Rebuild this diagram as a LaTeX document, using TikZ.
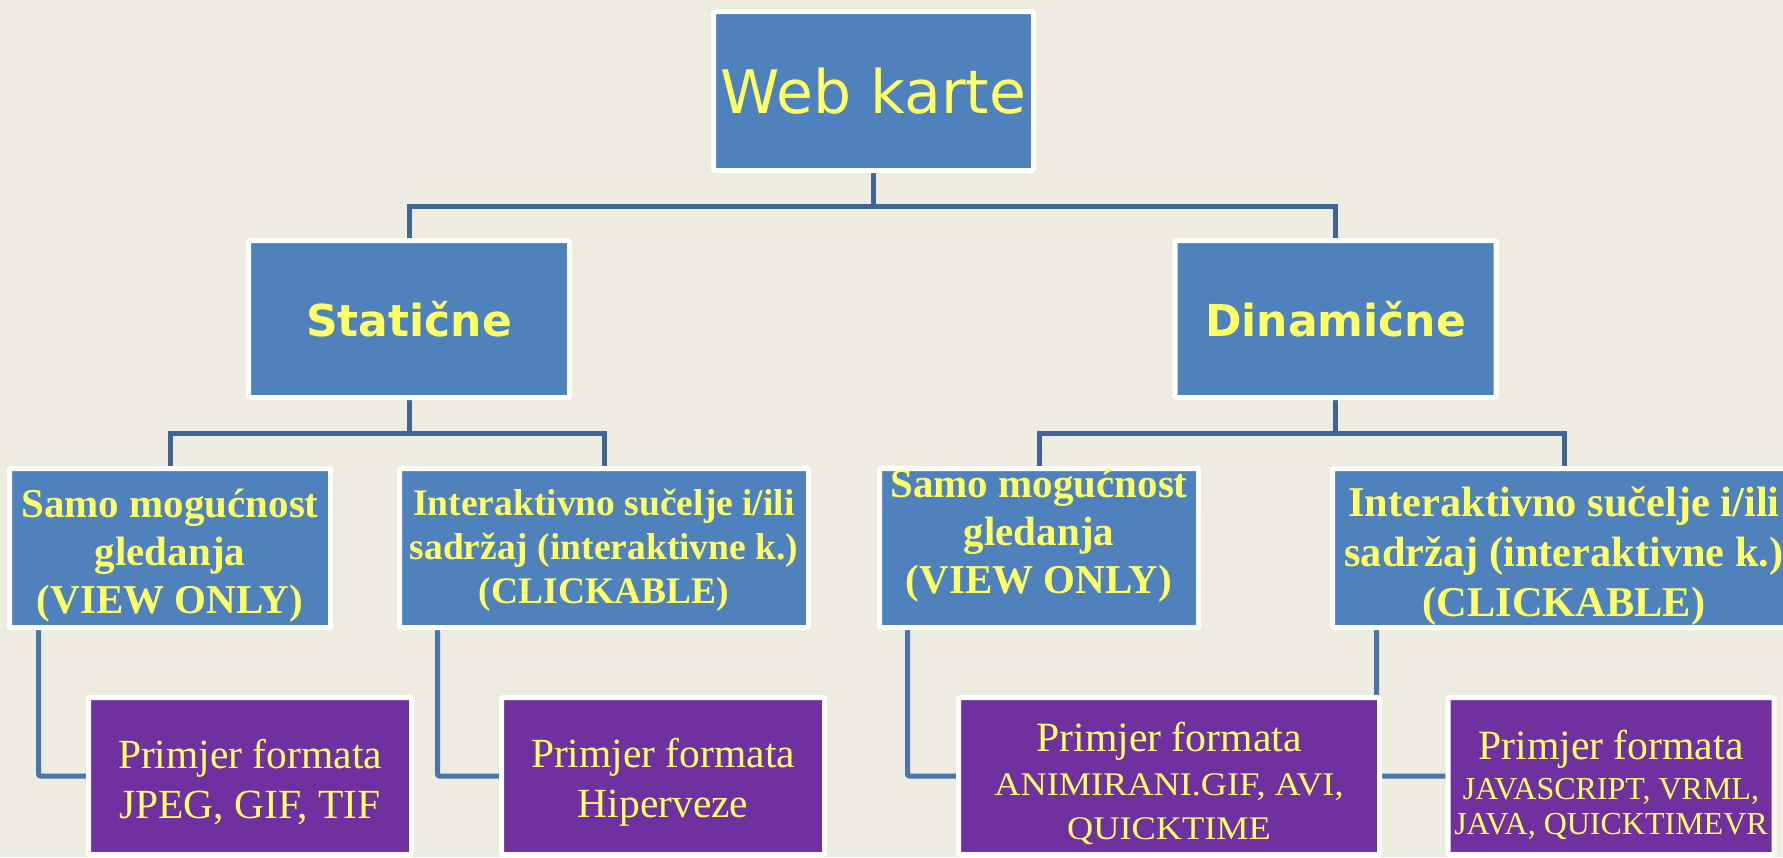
\documentclass[tikz,border=0pt]{standalone}
\usepackage{fontspec}
\usepackage{graphicx}
\setmainfont{Liberation Serif}
\newfontfamily\djv{DejaVu Sans}
\definecolor{bgcol}{HTML}{EEECE1}
\definecolor{boxblue}{HTML}{4F81BD}
\definecolor{boxpurple}{HTML}{7030A0}
\definecolor{txtyellow}{HTML}{FFFF66}
\definecolor{linkblue}{HTML}{3F6496}
\definecolor{linkblue2}{HTML}{4A74AA}
\pgfdeclarelayer{bg}
\pgfdeclarelayer{background}
\pgfsetlayers{bg,background,main}
\tikzset{
  box/.style={draw=white, line width=5pt, rounded corners=2pt, inner sep=0pt, align=center, text=txtyellow},
  bluebox/.style={box, fill=boxblue},
  purplebox/.style={box, fill=boxpurple},
  txt/.style={align=center, text=txtyellow, inner sep=0pt},
  conn/.style={draw=linkblue, line width=5pt},
  conn4/.style={draw=linkblue2, line width=5pt, rounded corners=2pt},
  topfont/.style={font=\djv\fontsize{60}{70}\selectfont},
  midfont/.style={font=\djv\bfseries\fontsize{44}{52}\selectfont},
}
\begin{document}
\begin{tikzpicture}[x=1pt,y=-1pt]
\begin{pgfonlayer}{bg}
\fill[bgcol] (0,0) rectangle (1783,857);
\end{pgfonlayer}
\useasboundingbox (0,0) rectangle (1783,857);

% level 1
\node[bluebox, topfont, minimum width=320pt, minimum height=159pt] (web) at (873.5,91) {Web karte};
% level 2
\node[bluebox, midfont, minimum width=321pt, minimum height=157pt] (stat) at (409,319) {Statične};
\node[bluebox, midfont, minimum width=321pt, minimum height=157pt] (dyn) at (1335.5,319) {Dinamične};
% level 3
\node[bluebox, minimum width=321pt, minimum height=159pt] (A) at (170,548) {};
\node[txt, font=\bfseries\fontsize{41}{48}\selectfont] (At) at ([yshift=-8pt]A.center)
  {Samo mogućnost\\gledanja\\ (VIEW ONLY)};
\node[bluebox, minimum width=409pt, minimum height=159pt] (B) at (604,548) {};
\node[txt, font=\bfseries\fontsize{37.5}{44}\selectfont] (Bt) at ([yshift=-2pt]B.center)
  {Interaktivno sučelje i/ili\\sadržaj (interaktivne k.)\\(CLICKABLE)};
\node[bluebox, minimum width=319pt, minimum height=159pt] (C) at (1039,548) {};
\node[txt, font=\bfseries\fontsize{41}{48}\selectfont] (Ct) at ([yshift=12pt]C.center)
  {Samo mogućnost\\gledanja\\ (VIEW ONLY)};
\node[bluebox, minimum width=463pt, minimum height=159pt] (D) at (1564,548) {};
\node[txt, font=\bfseries\fontsize{42.4}{50}\selectfont] (Dt) at ([yshift=-8pt]D.center)
  {Interaktivno sučelje i/ili\\sadržaj (interaktivne k.)\\(CLICKABLE)};
% level 4
\node[purplebox, minimum width=323pt, minimum height=157pt] (E) at (250,776) {};
\node[txt, font=\fontsize{41.5}{50}\selectfont] (Et) at ([yshift=-6pt]E.center)
  {Primjer formata\\JPEG, GIF, TIF};
\node[purplebox, minimum width=323pt, minimum height=157pt] (F) at (663,776) {};
\node[txt, font=\fontsize{41.5}{50}\selectfont] (Ft) at ([yshift=-6pt]F.center)
  {Primjer formata\\Hiperveze};
\node[purplebox, minimum width=421pt, minimum height=157pt] (G) at (1169,776) {};
\node[txt, font=\fontsize{41.7}{44}\selectfont] (Gt) at ([yshift=-7pt]G.center)
  {Primjer formata\\{\fontsize{33}{40}\selectfont\scalebox{1.1}[1]{ANIMIRANI.GIF, AVI,}}\\{\fontsize{33}{40}\selectfont\scalebox{1.1}[1]{QUICKTIME}}};
\node[purplebox, minimum width=326pt, minimum height=157pt] (H) at (1611,776) {};
\node[txt, font=\fontsize{41.7}{40}\selectfont] (Ht) at ([yshift=-9pt]H.center)
  {Primjer formata\\{\fontsize{32}{36}\selectfont JAVASCRIPT, VRML,}\\[-5pt]{\fontsize{32}{36}\selectfont JAVA, QUICKTIMEVR}};

\begin{pgfonlayer}{background}
\draw[conn] (web.south) -- ++(0,33) -| (stat.north);
\draw[conn] (web.south) -- ++(0,33) -| (dyn.north);
\draw[conn] (stat.south) -- ++(0,33) -| (A.north);
\draw[conn] (stat.south) -- ++(0,33) -| (B.north);
\draw[conn] (dyn.south) -- ++(0,33) -| (C.north);
\draw[conn] (dyn.south) -- ++(0,33) -| (D.north);
\draw[conn4] ([xshift=31.5pt]A.south west) |- (E.west);
\draw[conn4] ([xshift=40.5pt]B.south west) |- (F.west);
\draw[conn4] ([xshift=30.5pt]C.south west) |- (G.west);
\draw[conn4] ([xshift=46.5pt]D.south west) |- (H.west);
\end{pgfonlayer}
\end{tikzpicture}
\end{document}
